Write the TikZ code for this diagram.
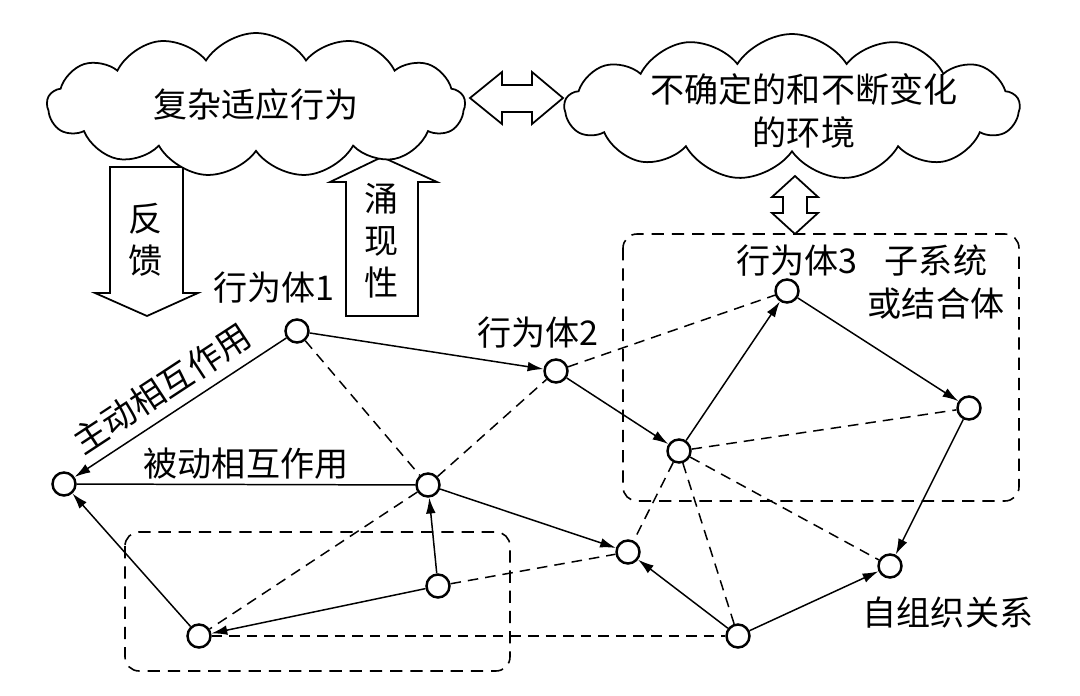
\documentclass[tikz,border=0pt]{standalone}
\usepackage{fontspec}
\setmainfont{Noto Sans CJK SC}
\usetikzlibrary{arrows.meta, shapes.symbols}

\begin{document}
\begin{tikzpicture}[x=0.02cm, y=-0.02cm,
	agent/.style={circle, draw, line width=1.4pt, fill=white, minimum size=0.46cm, inner sep=0pt},
	act/.style={line width=0.85pt, -{Latex[length=9pt, width=5.5pt]}},
	rel/.style={line width=0.85pt, dash pattern=on 6pt off 4pt},
	grp/.style={line width=0.9pt, dash pattern=on 7pt off 4.5pt, rounded corners=8pt},
	blk/.style={line width=1pt, fill=white, line join=miter},
	lab/.style={inner sep=1.5pt, font=\fontsize{19.4pt}{24pt}\selectfont, align=center},
	sky/.style={lab, cloud, cloud puffs=13, cloud puff arc=115, cloud ignores aspect, draw, line width=1pt, fill=white, inner sep=0pt}]
	\useasboundingbox (0,0) rectangle (1080,696);
	\draw[grp] (623,234) rectangle (1019,501);
	\draw[grp] (125,532) rectangle (510,671);
	\draw[blk] (110,167) -- (183,167) -- (183,293) -- (198,293) -- (147,316) -- (95,293) -- (110,293) -- cycle;
	\draw[blk] (346,316) -- (418,316) -- (418,182) -- (437,182) -- (382,157) -- (330,182) -- (346,182) -- cycle;
	\draw[blk] (470,98) -- (502,72) -- (502,85) -- (532,85) -- (532,72) -- (563,98) -- (532,124) -- (532,112) -- (502,112) -- (502,124) -- cycle;
	\draw[blk] (795,176) -- (818,197) -- (807,197) -- (807,213) -- (818,213) -- (795,234) -- (772,213) -- (783,213) -- (783,197) -- (772,197) -- cycle;
	\node[sky, minimum width=8.36cm, minimum height=2.88cm] (c1) at (256,105) {复杂适应行为};
	\node[sky, minimum width=9.1cm, minimum height=2.92cm] (c2) at (792,107) {};
	\node[lab] (c2t) at (804,111) {不确定的和不断变化\\的环境};
	\node[lab] (fb) at (146,240) {反\\馈};
	\node[lab] (em) at (382,241) {涌\\现\\性};
	\node[agent] (a1) at (297,331) {};
	\node[agent] (a2) at (556,371) {};
	\node[agent] (a3) at (787,291) {};
	\node[agent] (a4) at (969,408) {};
	\node[agent] (a5) at (679,451) {};
	\node[agent] (a6) at (64,484) {};
	\node[agent] (a7) at (428,485) {};
	\node[agent] (a8) at (628,552) {};
	\node[agent] (a9) at (890,566) {};
	\node[agent] (a10) at (738,636) {};
	\node[agent] (a11) at (438,586) {};
	\node[agent] (a12) at (199,636) {};
	\node[lab] (l1) at (274,288) {行为体1};
	\node[lab] (l2) at (538,333) {行为体2};
	\node[lab] (l3) at (797,261) {行为体3};
	\node[lab] (l4) at (936,282) {子系统\\或结合体};
	\node[lab] (l5) at (948,613) {自组织关系};
	\draw[act] (a1) -- node[lab, sloped, above=4pt, pos=0.52] {主动相互作用} (a6);
	\draw[line width=0.85pt] (a6) -- node[lab, above=1pt] {被动相互作用} (a7);
	\draw[act] (a1) -- (a2);
	\draw[act] (a2) -- (a5);
	\draw[act] (a5) -- (a3);
	\draw[act] (a3) -- (a4);
	\draw[act] (a4) -- (a9);
	\draw[act] (a7) -- (a8);
	\draw[act] (a10) -- (a8);
	\draw[act] (a10) -- (a9);
	\draw[act] (a11) -- (a7);
	\draw[act] (a11) -- (a12);
	\draw[act] (a12) -- (a6);
	\draw[rel] (a1) -- (a7);
	\draw[rel] (a7) -- (a2);
	\draw[rel] (a2) -- (a3);
	\draw[rel] (a5) -- (a4);
	\draw[rel] (a5) -- (a8);
	\draw[rel] (a5) -- (a10);
	\draw[rel] (a5) -- (a9);
	\draw[rel] (a7) -- (a12);
	\draw[rel] (a11) -- (a8);
	\draw[rel] (a12) -- (a10);
\end{tikzpicture}
\end{document}
